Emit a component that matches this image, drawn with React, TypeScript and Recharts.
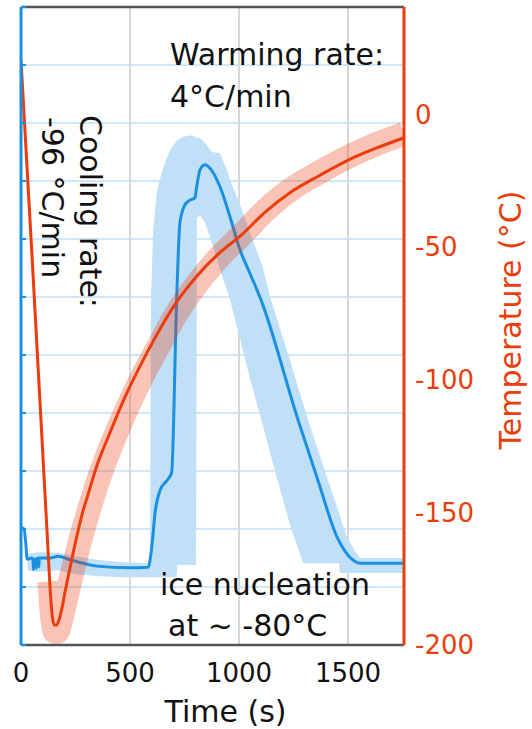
import { ComposedChart, Line, Area, XAxis, YAxis, CartesianGrid, Label } from "recharts";

// heat-flow trace, arbitrary units on the (unlabelled) left axis
const flowTime = [0, 14, 22, 28, 50, 55, 57, 59, 68, 70, 72, 80, 82, 84, 95, 133, 170, 225, 349, 500, 583, 600, 615, 638, 668, 691, 714, 729, 752, 775, 798, 806, 821, 844, 867, 913, 959, 1005, 1050, 1101, 1271, 1362, 1450, 1486, 1518, 1555, 1757];
const flowValue = [2.02, 2.0, 1.75, 1.48, 1.5, 1.47, 1.3, 1.48, 1.48, 1.32, 1.48, 1.5, 1.35, 1.5, 1.5, 1.5, 1.53, 1.47, 1.36, 1.33, 1.34, 1.69, 2.28, 2.67, 2.83, 2.97, 5.95, 7.28, 7.59, 7.67, 7.71, 7.9, 8.19, 8.28, 8.22, 7.9, 7.38, 6.81, 6.41, 5.95, 3.88, 2.84, 1.86, 1.62, 1.48, 1.41, 1.41];

// spread of the heat-flow runs (min / max envelope)
const bandTime = [30, 78, 170, 250, 349, 450, 560, 592, 596, 606, 624, 651, 683, 713, 718, 743, 775, 803, 807, 821, 844, 876, 913, 945, 959, 1005, 1050, 1106, 1147, 1234, 1289, 1294, 1317, 1408, 1459, 1463, 1495, 1532, 1555, 1757];
const bandLow = [1.29, 1.26, 1.29, 1.22, 1.19, 1.17, 1.17, 1.17, 1.17, 1.17, 1.17, 1.17, 1.17, 1.17, 1.38, 1.38, 1.38, 1.38, 7.36, 7.41, 7.29, 6.93, 6.47, 6.12, 5.95, 5.28, 4.6, 3.83, 3.24, 2.07, 1.47, 1.41, 1.41, 1.41, 1.41, 1.24, 1.24, 1.24, 1.24, 1.24];
const bandHigh = [1.57, 1.6, 1.59, 1.53, 1.47, 1.43, 1.41, 1.41, 5.95, 7.16, 7.84, 8.22, 8.53, 8.69, 8.71, 8.76, 8.79, 8.76, 8.74, 8.74, 8.66, 8.5, 8.48, 8.19, 8.02, 7.59, 7.12, 6.55, 5.95, 4.91, 4.22, 4.17, 3.88, 2.84, 2.28, 2.22, 1.86, 1.62, 1.5, 1.5];

// sample temperature (°C)
const tempTime = [0, 49, 110, 120, 133, 144, 153, 163, 175, 187, 202, 217, 240, 263, 286, 301, 350, 408, 480, 561, 630, 706, 806, 913, 1005, 1124, 1234, 1370, 1506, 1630, 1757];
const tempValue = [20.5, -51, -143, -158, -178, -189.5, -192.5, -192.5, -190.5, -186.5, -180, -174, -165, -156.6, -149, -145, -132, -120, -106, -92.5, -82, -71.7, -61, -52, -45.9, -36.5, -29.5, -23, -17, -12.7, -8.8];

// temperature spread, drawn as a wide translucent stroke
const spreadTime = [130, 144, 155, 167, 180, 197, 217, 240, 270, 301, 350, 408, 480, 561, 630, 706, 806, 913, 1005, 1124, 1234, 1370, 1506, 1630, 1757];
const spreadValue = [-176, -190, -195, -195, -192, -186, -179, -171, -161, -152, -139, -126, -112, -98, -87.5, -76, -64, -53.5, -46, -36, -28.5, -21.8, -15.8, -11.2, -7.3];

const timeTicks = [0, 500, 1000, 1500];
const tempTicks = [-200, -150, -100, -50, 0];
const flowTicks = [0, 1, 2, 3, 4, 5, 6, 7, 8, 9, 10, 11];

const flowData = flowTime.map((t, i) => ({ t, flow: flowValue[i] }));
const bandData = bandTime.map((t, i) => ({ t, range: [bandLow[i], bandHigh[i]] }));
const tempData = tempTime.map((t, i) => ({ t, temp: tempValue[i] }));
const spreadData = spreadTime.map((t, i) => ({ t, temp: spreadValue[i] }));

const BLUE = "#1b8fe0";
const RED = "#ec3c0c";
const FONT = "DejaVu Sans";

const TempTitle = (props: any) => {
  const { viewBox } = props;
  const x = viewBox.x + viewBox.width + 116;
  const y = viewBox.y + viewBox.height / 2 - 6;
  return (
    <text
      x={x}
      y={y}
      transform={`rotate(-90, ${x}, ${y})`}
      textAnchor="middle"
      fontSize={30}
      fill={RED}
      fontFamily={FONT}
    >
      Temperature (°C)
    </text>
  );
};

const App = () => {
  return (
    <div style={{ position: "absolute", left: 0, top: 0, width: 532, height: 729, background: "#fff" }}>
      <ComposedChart
        width={532}
        height={729}
        margin={{ top: 7, right: 127, bottom: 0, left: 21 }}
        style={{ fontFamily: FONT }}
      >
        <CartesianGrid xAxisId="main" yAxisId="flow" vertical={false} stroke="#cfe7f8" strokeWidth={2} />
        <CartesianGrid xAxisId="main" yAxisId="flow" horizontal={false} stroke="#d8d8d8" strokeWidth={2} />

        <XAxis
          xAxisId="ticks"
          type="number"
          domain={[0, 1757]}
          ticks={timeTicks}
          orientation="bottom"
          height={1}
          mirror
          tickSize={5}
          tickFormatter={() => ""}
          axisLine={false}
          tickLine={{ stroke: "#555", strokeWidth: 2 }}
        />
        <XAxis
          xAxisId="main"
          type="number"
          dataKey="t"
          domain={[0, 1757]}
          ticks={timeTicks}
          allowDataOverflow
          height={84}
          tickSize={0}
          tickMargin={19}
          tickLine={false}
          axisLine={{ stroke: "#555", strokeWidth: 2.5 }}
          tick={{ fontSize: 26, fill: "#111", fontFamily: FONT }}
        >
          <Label value="Time (s)" position="insideBottom" offset={7} dx={13} fontSize={30} fill="#111" fontFamily={FONT} />
        </XAxis>
        <XAxis
          xAxisId="top"
          type="number"
          domain={[0, 1757]}
          ticks={timeTicks}
          orientation="top"
          height={1}
          mirror
          tickSize={5}
          tickFormatter={() => ""}
          axisLine={{ stroke: "#555", strokeWidth: 2.5 }}
          tickLine={{ stroke: "#555", strokeWidth: 2 }}
        />

        <YAxis
          yAxisId="flow"
          domain={[0, 11]}
          ticks={flowTicks}
          width={1}
          mirror
          tickSize={5}
          tickFormatter={() => ""}
          axisLine={{ stroke: BLUE, strokeWidth: 3 }}
          tickLine={{ stroke: BLUE, strokeWidth: 2 }}
        />
        <YAxis
          yAxisId="temp"
          orientation="right"
          domain={[-200, 40.5]}
          ticks={tempTicks}
          allowDataOverflow
          width={1}
          tickSize={0}
          tickMargin={11}
          tickLine={false}
          axisLine={{ stroke: RED, strokeWidth: 3 }}
          tick={{ fontSize: 26, fill: RED, fontFamily: FONT }}
          label={{ content: <TempTitle /> }}
        />
        <YAxis
          yAxisId="tempTicks"
          orientation="right"
          domain={[-200, 40.5]}
          ticks={tempTicks}
          width={1}
          mirror
          tickSize={4}
          tickFormatter={() => ""}
          axisLine={false}
          tickLine={{ stroke: RED, strokeWidth: 2 }}
        />

        <Area
          data={bandData}
          xAxisId="main"
          yAxisId="flow"
          dataKey="range"
          type="linear"
          fill="#bfe0f6"
          fillOpacity={1}
          stroke="none"
          isAnimationActive={false}
        />
        <Line
          data={flowData}
          xAxisId="main"
          yAxisId="flow"
          dataKey="flow"
          type="monotone"
          stroke={BLUE}
          strokeWidth={3}
          dot={false}
          isAnimationActive={false}
        />
        <Line
          data={spreadData}
          xAxisId="main"
          yAxisId="temp"
          dataKey="temp"
          type="monotone"
          stroke={RED}
          strokeOpacity={0.3}
          strokeWidth={24}
          dot={false}
          isAnimationActive={false}
        />
        <Line
          data={tempData}
          xAxisId="main"
          yAxisId="temp"
          dataKey="temp"
          type="monotone"
          stroke={RED}
          strokeWidth={3}
          dot={false}
          isAnimationActive={false}
        />
      </ComposedChart>

      <svg
        width={532}
        height={729}
        style={{ position: "absolute", left: 0, top: 0, pointerEvents: "none" }}
        fontFamily={FONT}
        fontSize={30}
        fill="#111"
      >
        <text x={170} y={65}>Warming rate:</text>
        <text x={170} y={107}>4°C/min</text>
        <text transform="translate(80, 115) rotate(90)">Cooling rate:</text>
        <text transform="translate(42, 117) rotate(90)">-96 °C/min</text>
        <text x={160} y={595}>ice nucleation</text>
        <text x={168} y={636}>at ~ -80°C</text>
      </svg>
    </div>
  );
};

export default App;
